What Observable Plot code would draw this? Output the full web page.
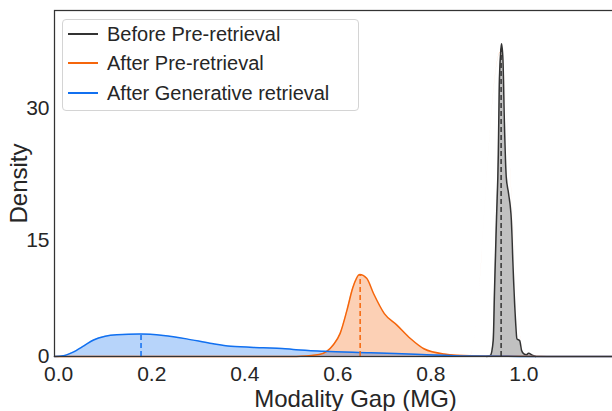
<!DOCTYPE html>
<html><head><meta charset="utf-8">
<script src="https://cdn.jsdelivr.net/npm/d3@7"></script>
<script src="https://cdn.jsdelivr.net/npm/@observablehq/plot@0.6"></script>
<style>
html,body{margin:0;padding:0;overflow:hidden;background:#fff;width:612px;height:411px}
#wrap{position:relative;width:612px;height:411px;overflow:hidden}
#wrap svg{position:absolute;left:0;top:0;max-width:none !important;width:656px !important;height:411px !important}
.legend{position:absolute;left:62px;top:19px;width:295px;height:90px;border:1px solid #d4d4d4;border-radius:4px;background:rgba(255,255,255,0.85);font-family:"Liberation Sans",Arial,sans-serif;font-size:20px;color:#262626}
.row{position:absolute;left:0;height:30px;display:flex;align-items:center;white-space:nowrap}
.sw{display:inline-block;width:30px;height:2px;margin-left:5px;margin-right:9px}
</style></head>
<body><div id="wrap"></div>
<script>
// Series
const seriesNames = ["Before Pre-retrieval", "After Pre-retrieval", "After Generative retrieval"];
const seriesColors = ["#333333", "#f5650b", "#1170f0"];

// Density curves
const beforeX = [0.92, 0.928, 0.934, 0.937, 0.941, 0.945, 0.947, 0.950, 0.952, 0.955, 0.958, 0.962, 0.967, 0.973, 0.977, 0.982, 0.985, 0.991, 0.995, 1.000, 1.005, 1.010, 1.018, 1.025];
const beforeY = [0, 0.2, 2.4, 9.3, 17.3, 24.9, 32.3, 36.1, 37.1, 35.3, 28.5, 22.3, 20.4, 17.3, 11.3, 5.1, 2.65, 2.4, 1.0, 0.45, 0.3, 0.55, 0.25, 0];

const afterPreX = [-0.009, 0.45, 0.50, 0.52, 0.56, 0.59, 0.605, 0.62, 0.632, 0.647, 0.662, 0.677, 0.70, 0.727, 0.756, 0.785, 0.828, 0.885, 0.95, 1.0, 1.05, 1.2];
const afterPreY = [0, 0, 0.01, 0.05, 0.35, 1.8, 3.4, 6.5, 9.2, 10.85, 10.4, 8.5, 6.0, 4.5, 2.7, 1.25, 0.45, 0.15, 0.1, 0.05, 0.02, 0];

const afterGenX = [-0.009, 0.01, 0.03, 0.055, 0.075, 0.10, 0.125, 0.175, 0.225, 0.275, 0.325, 0.37, 0.44, 0.48, 0.51, 0.57, 0.67, 0.78, 0.88, 0.99, 1.1, 1.285];
const afterGenY = [0, 0.15, 0.7, 1.7, 2.5, 3.0, 3.2, 3.3, 3.1, 2.65, 2.05, 1.6, 1.4, 1.3, 1.1, 0.88, 0.65, 0.35, 0.1, 0.02, 0, 0];

// Mean markers (dashed lines)
const meanX = [0.951, 0.648, 0.177];
const meanDensity = [36.5, 10.85, 3.3];

// Axes
const xTicks = [0, 0.2, 0.4, 0.6, 0.8, 1.0];
const yTicks = [0, 15, 30];
const xLabel = "Modality Gap (MG)";
const yLabel = "Density";

const curves = [[beforeX, beforeY], [afterPreX, afterPreY], [afterGenX, afterGenY]];
const rows = curves.flatMap(([xs, ys], i) => xs.map((x, j) => ({series: seriesNames[i], x, y: ys[j]})));
const means = meanX.map((x, i) => ({series: seriesNames[i], x, y: meanDensity[i]}));

const font = '"Liberation Sans", Arial, sans-serif';
const chart = Plot.plot({
  width: 656, height: 411,
  marginLeft: 54, marginRight: 0, marginTop: 10, marginBottom: 55,
  style: {fontFamily: font, color: "#262626", background: "transparent", maxWidth: "none"},
  x: {domain: [-0.009, 1.285]},
  y: {type: "pow", exponent: 1.09, domain: [0, 40.7]},
  color: {domain: seriesNames, range: seriesColors},
  marks: [
    Plot.areaY(rows, {x: "x", y: "y", z: "series", fill: "series", fillOpacity: 0.3, curve: "monotone-x"}),
    Plot.lineY(rows, {x: "x", y: "y", z: "series", stroke: "series", strokeWidth: 1.5, curve: "monotone-x"}),
    Plot.ruleX(means, {x: "x", y1: 0, y2: "y", stroke: "series", strokeWidth: 1.5, strokeDasharray: "5,3"}),
    Plot.frame({stroke: "#333333", strokeWidth: 1.25}),
    Plot.axisX({ticks: xTicks, tickFormat: d3.format(".1f"), tickSize: 0, tickPadding: 10, fontSize: 21, label: null}),
    Plot.axisY({ticks: yTicks, tickSize: 0, tickPadding: 5, fontSize: 21, label: null}),
    Plot.text([xLabel], {frameAnchor: "bottom", textAnchor: "middle", lineAnchor: "middle", dy: 43, fontSize: 24, fill: "#262626"}),
    Plot.text([yLabel], {frameAnchor: "left", textAnchor: "middle", lineAnchor: "middle", rotate: -90, dx: -35, fontSize: 24, fill: "#262626"})
  ]
});
const wrap = document.getElementById("wrap");
wrap.appendChild(chart);

const legend = document.createElement("div");
legend.className = "legend";
const tops = [-1, 28, 58];
seriesNames.forEach((name, i) => {
  const r = document.createElement("div");
  r.className = "row";
  r.style.top = tops[i] + "px";
  const sw = document.createElement("span");
  sw.className = "sw";
  sw.style.background = seriesColors[i];
  const t = document.createElement("span");
  t.textContent = name;
  r.appendChild(sw); r.appendChild(t);
  legend.appendChild(r);
});
wrap.appendChild(legend);
</script>
</body></html>
